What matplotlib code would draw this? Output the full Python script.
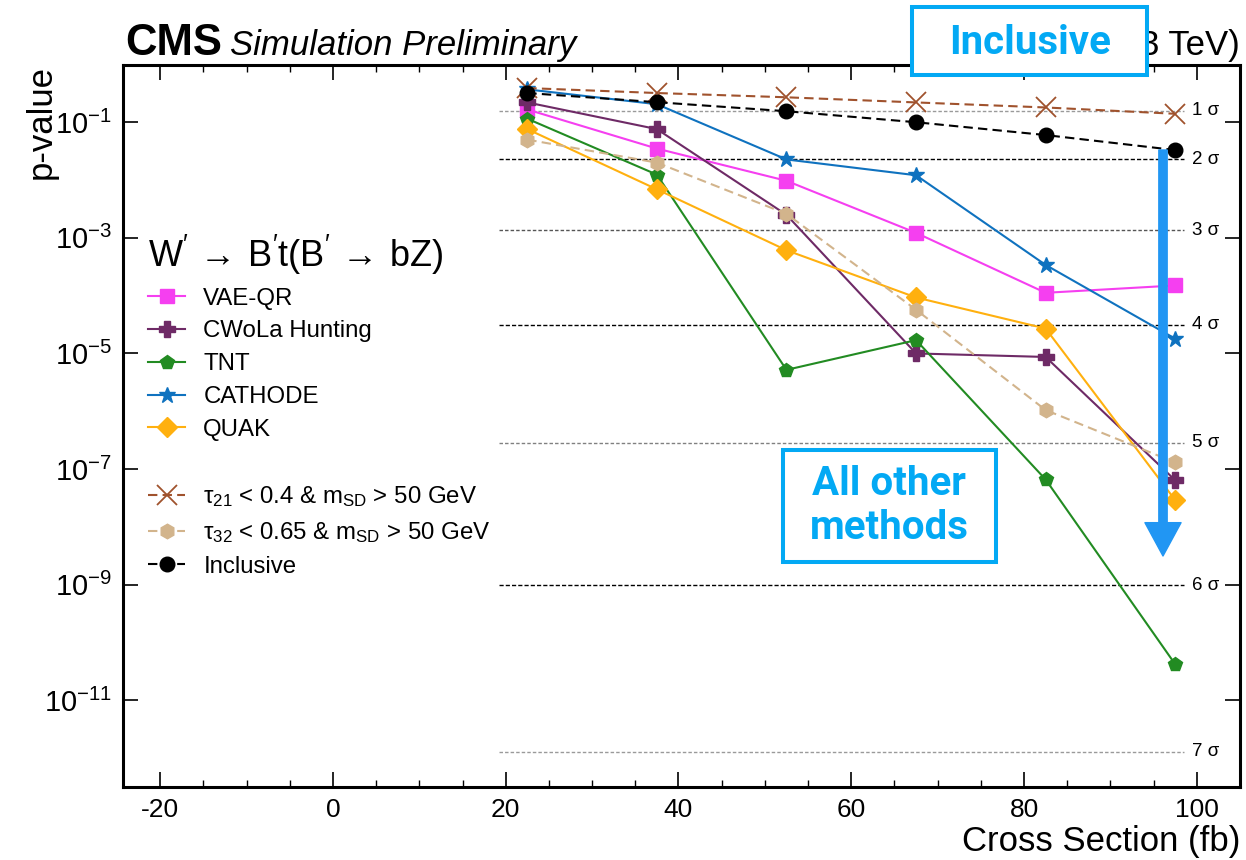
import matplotlib
matplotlib.use('Agg')
import matplotlib.pyplot as plt
from matplotlib.lines import Line2D
from matplotlib.patches import Rectangle, FancyArrowPatch
from matplotlib.ticker import FixedLocator, NullLocator, LogFormatterSciNotation, MultipleLocator

plt.rcParams['font.family'] = ['Liberation Sans', 'DejaVu Sans']
plt.rcParams['mathtext.fontset'] = 'custom'
plt.rcParams['mathtext.rm'] = 'Liberation Sans'
plt.rcParams['mathtext.it'] = 'Liberation Sans:italic'
plt.rcParams['mathtext.bf'] = 'Liberation Sans:bold'
plt.rcParams['mathtext.default'] = 'regular'
plt.rcParams['axes.unicode_minus'] = False

# ---------------- data ----------------
cross_section = [22.5, 37.5, 52.5, 67.5, 82.5, 97.5]
vae_qr = [0.166, 0.035, 9.7e-3, 1.22e-3, 1.12e-4, 1.5e-4]
cwola = [0.22, 0.076, 2.5e-3, 1.0e-5, 8.7e-6, 6.4e-8]
tnt = [0.115, 0.0124, 5.2e-6, 1.7e-5, 6.6e-8, 4.2e-11]
cathode = [0.37, 0.205, 0.0227, 0.0121, 3.4e-4, 1.8e-5]
quak = [0.076, 6.9e-3, 6.1e-4, 9.3e-5, 2.7e-5, 2.9e-8]
tau21 = [0.39, 0.32, 0.27, 0.22, 0.18, 0.14]
tau32 = [0.050, 0.020, 2.6e-3, 5.7e-5, 1.05e-6, 1.3e-7]
inclusive = [0.32, 0.222, 0.155, 0.10, 0.060, 0.033]

sigma_labels = ['1 σ', '2 σ', '3 σ', '4 σ', '5 σ', '6 σ', '7 σ']
sigma_pvalues = [1.587e-1, 2.275e-2, 1.350e-3, 3.167e-5, 2.867e-7, 9.866e-10, 1.280e-12]
sigma_colors = ['#9a9a9a', '#000000', '#555555', '#000000', '#808080', '#000000', '#9a9a9a']

y_ticks = [1e-1, 1e-3, 1e-5, 1e-7, 1e-9, 1e-11]

# ---------------- figure ----------------
fig = plt.figure(figsize=(12.46, 8.60), dpi=100)
ax = fig.add_axes([123 / 1246, 1 - 787 / 860, (1240 - 123) / 1246, (787 - 65) / 860])
ax.set_yscale('log')
ax.set_xlim(-24.3, 105.0)
ax.set_ylim(10 ** -12.5, 10 ** -0.01)

# sigma reference lines
for p, lab, c in zip(sigma_pvalues, sigma_labels, sigma_colors):
    ls = (0, (3, 1.5)) if c == '#000000' else (0, (2.5, 1.5))
    ax.plot([19.2, 98.5], [p, p], color=c, lw=1.0, ls=ls, zorder=1)
    ax.text(99.4, p, lab, fontsize=13.5, va='center', ha='left', zorder=1)

lw = 1.5
h_vae, = ax.plot(cross_section, vae_qr, color='#f53ff0', lw=lw, marker='s', ms=10, label='VAE-QR', zorder=3)
h_cw, = ax.plot(cross_section, cwola, color='#6e2a66', lw=lw, marker='P', ms=11, label='CWoLa Hunting', zorder=3)
h_tnt, = ax.plot(cross_section, tnt, color='#228b22', lw=lw, marker='p', ms=10.5, label='TNT', zorder=3)
h_cat, = ax.plot(cross_section, cathode, color='#0f72bf', lw=lw, marker='*', ms=12, label='CATHODE', zorder=3)
h_quak, = ax.plot(cross_section, quak, color='#ffb00f', lw=lw, marker='D', ms=10, label='QUAK', zorder=3)
h_t21, = ax.plot(cross_section, tau21, color='#a0522d', lw=lw, ls=(0, (4.5, 2.5)), marker='x', ms=15,
                 mew=1.3, label=r'τ$_{21}$ < 0.4 & m$_{SD}$ > 50 GeV', zorder=3)
h_t32, = ax.plot(cross_section, tau32, color='#d2b48c', lw=lw, ls=(0, (4.5, 2.5)), marker='h', ms=10.5,
                 label=r'τ$_{32}$ < 0.65 & m$_{SD}$ > 50 GeV', zorder=3)
h_inc, = ax.plot(cross_section, inclusive, color='black', lw=lw, ls=(0, (4.5, 2.5)), marker='o', ms=10.5,
                 label='Inclusive', zorder=4)
blank = Line2D([], [], linestyle='none', marker='none', label=' ')

handles = [h_vae, h_cw, h_tnt, h_cat, h_quak, blank, h_t21, h_t32, h_inc]
legend_title = r'W$^{\prime}\,\rightarrow\,$B$^{\prime}$t(B$^{\prime}\,\rightarrow\,$bZ)'
leg = ax.legend(handles=handles, labels=[h.get_label() for h in handles],
                loc='upper left', bbox_to_anchor=(0.0224, 0.768), frameon=False,
                fontsize=17.3, title=legend_title, title_fontsize=26,
                alignment='left', handlelength=1.55, handletextpad=0.75,
                labelspacing=0.45, borderpad=0, borderaxespad=0)
leg.get_title().set_math_fontfamily('cm')

# axes styling
for s in ax.spines.values():
    s.set_linewidth(2.2)
ax.yaxis.set_major_locator(FixedLocator(y_ticks))
ax.yaxis.set_minor_locator(NullLocator())
ax.yaxis.set_major_formatter(LogFormatterSciNotation())
ax.xaxis.set_major_locator(MultipleLocator(20))
ax.xaxis.set_minor_locator(MultipleLocator(5))
ax.tick_params(which='both', direction='in', top=True, right=True)
ax.tick_params(axis='x', labelsize=19, pad=8)
ax.tick_params(axis='y', labelsize=21, pad=8)
ax.tick_params(which='major', length=11, width=1.2)
ax.tick_params(which='minor', length=5, width=1.0)

ax.set_xlabel('Cross Section (fb)', fontsize=25, loc='right')
ax.set_ylabel('p-value', fontsize=25, loc='top')
ax.xaxis.set_label_coords(1.0, -0.052)
ax.yaxis.set_label_coords(-0.058, 1.0)

# header
fig.text(125 / 1246, 1 - 55 / 860, 'CMS', fontsize=31.5, fontweight='bold', va='baseline', ha='left')
fig.text(230 / 1246, 1 - 55 / 860, 'Simulation Preliminary', fontsize=25, style='italic', va='baseline', ha='left')
fig.text(1240 / 1246, 1 - 55 / 860, '(13 TeV)', fontsize=25, va='baseline', ha='right', zorder=0.5)

# annotation boxes
box_col = '#03a9f4'
fig.add_artist(Rectangle((912 / 1246, 1 - 75 / 860), 235 / 1246, 68 / 860, transform=fig.transFigure,
                         facecolor='white', edgecolor=box_col, lw=2.9, zorder=5))
fig.text(1030 / 1246, 1 - 43 / 860, 'Inclusive', fontsize=29, fontweight='bold', family='Roboto',
         color=box_col, ha='center', va='center', zorder=6)
fig.add_artist(Rectangle((783 / 1246, 1 - 562 / 860), 213 / 1246, 112 / 860, transform=fig.transFigure,
                         facecolor='white', edgecolor=box_col, lw=2.9, zorder=5))
fig.text(889 / 1246, 1 - 506 / 860, 'All other\nmethods', fontsize=29, fontweight='bold', family='Roboto',
         color=box_col, ha='center', va='center', linespacing=1.18, zorder=6)

arrow = FancyArrowPatch(posA=(1163 / 1246, 1 - 150 / 860), posB=(1163 / 1246, 1 - 556 / 860),
                        transform=fig.transFigure,
                        arrowstyle='simple,head_length=24,head_width=26,tail_width=6',
                        mutation_scale=1, color='#2196f3', shrinkA=0, shrinkB=0, zorder=7)
fig.add_artist(arrow)

fig.savefig('out.png', dpi=100)
